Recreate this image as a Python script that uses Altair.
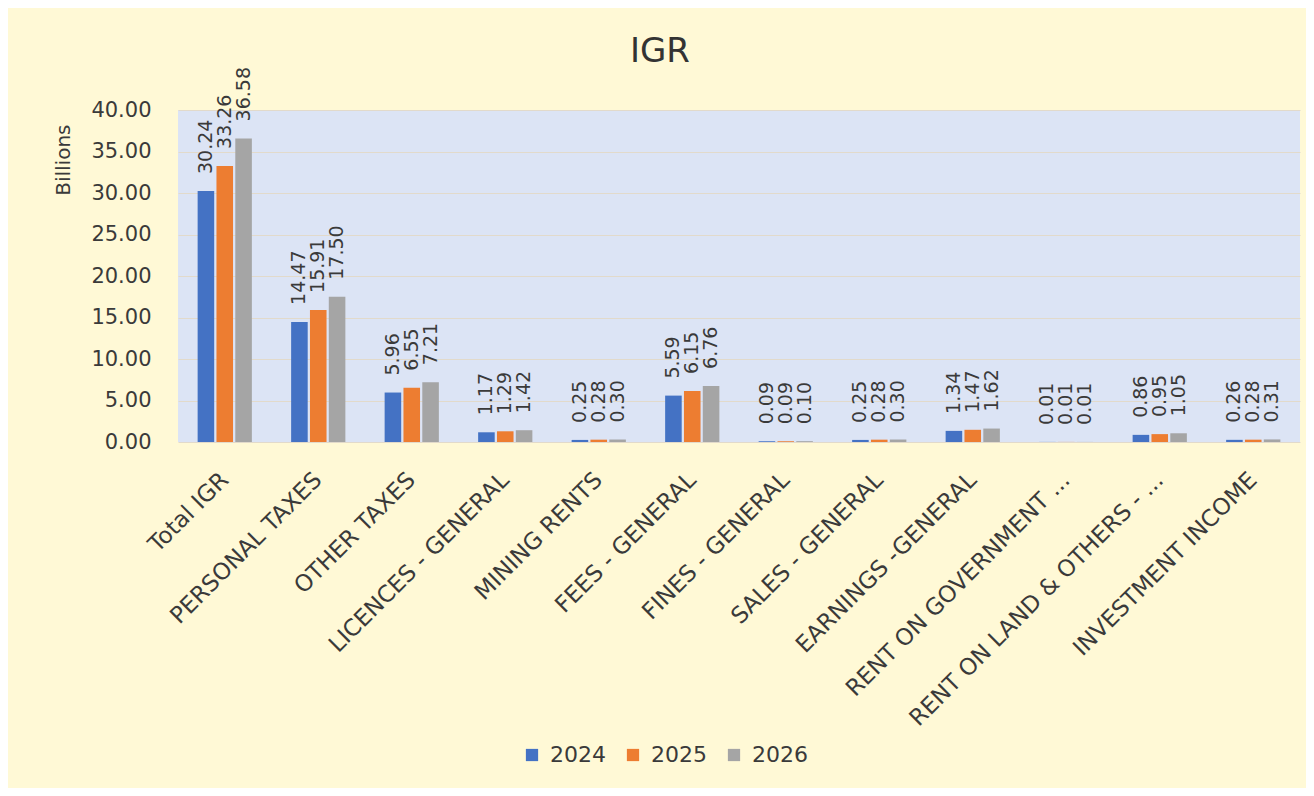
import altair as alt
import pandas as pd

categories = [
    "Total IGR", "PERSONAL TAXES", "OTHER TAXES", "LICENCES - GENERAL",
    "MINING RENTS", "FEES - GENERAL", "FINES - GENERAL", "SALES - GENERAL",
    "EARNINGS -GENERAL", "RENT ON GOVERNMENT ...", "RENT ON LAND & OTHERS - ...",
    "INVESTMENT INCOME",
]
years = ["2024", "2025", "2026"]
v2024 = [30.24, 14.47, 5.96, 1.17, 0.25, 5.59, 0.09, 0.25, 1.34, 0.01, 0.86, 0.26]
v2025 = [33.26, 15.91, 6.55, 1.29, 0.28, 6.15, 0.09, 0.28, 1.47, 0.01, 0.95, 0.28]
v2026 = [36.58, 17.50, 7.21, 1.42, 0.30, 6.76, 0.10, 0.30, 1.62, 0.01, 1.05, 0.31]
y_ticks = [0, 5, 10, 15, 20, 25, 30, 35, 40]
colors = ["#4472C4", "#ED7D31", "#A5A5A5"]

rows = []
for i, c in enumerate(categories):
    for yr, vals in zip(years, [v2024, v2025, v2026]):
        rows.append({"category": c, "year": yr, "value": vals[i]})
df = pd.DataFrame(rows)

FONT = "DejaVu Sans"
TXT = "#3A3A3A"

x = alt.X(
    "category:N", sort=categories, title=None,
    scale=alt.Scale(paddingInner=0.42, paddingOuter=0.21),
    axis=alt.Axis(labelAngle=-45, labelAlign="right", labelBaseline="middle",
                  labelFontSize=23, labelFont=FONT, labelColor=TXT,
                  ticks=False, domain=False, labelPadding=34, labelLimit=500),
)
xoff = alt.XOffset("year:N", sort=years, scale=alt.Scale(paddingInner=0.12))
y = alt.Y(
    "value:Q",
    scale=alt.Scale(domain=[0, 40], nice=False),
    axis=alt.Axis(values=y_ticks, format=".2f", title="Billions",
                  labelFontSize=21, labelFont=FONT, labelColor=TXT,
                  titleFontSize=20, titleFont=FONT, titleColor=TXT, titleFontWeight="normal",
                  titleAngle=270, titleX=-115, titleY=14, titleAlign="right", titleBaseline="middle",
                  ticks=False, domain=False, labelPadding=27,
                  gridColor="#E2DACB", gridWidth=1),
)
color = alt.Color(
    "year:N", sort=years,
    scale=alt.Scale(domain=years, range=colors),
    legend=alt.Legend(orient="none", legendX=343, legendY=634, direction="horizontal",
                      title=None, symbolType="square", symbolSize=150, symbolStrokeWidth=0,
                      labelFontSize=22, labelFont=FONT, labelColor=TXT, columnPadding=16,
                      labelOffset=7),
)

base = alt.Chart(df)
bars = base.mark_bar().encode(x=x, xOffset=xoff, y=y, color=color)
labels = base.mark_text(angle=270, align="left", baseline="middle", dx=17,
                        fontSize=19, font=FONT, color=TXT).encode(
    x=x, xOffset=xoff, y=y, text=alt.Text("value:Q", format=".2f"))

chart = alt.layer(bars, labels).properties(
    width=1122, height=332,
    title=alt.TitleParams("IGR", fontSize=34, font=FONT, fontWeight="normal", color="#333333",
                          anchor="middle", dx=-79, dy=8, offset=6),
    padding={"left": 170, "top": 102, "right": 6, "bottom": 346},
    autosize=alt.AutoSizeParams(type="none"),
    background="#FFF9D6",
).configure_view(fill="#DCE4F5", stroke=None)

chart.save("out.html", embed_options={"renderer": "svg", "actions": False})
